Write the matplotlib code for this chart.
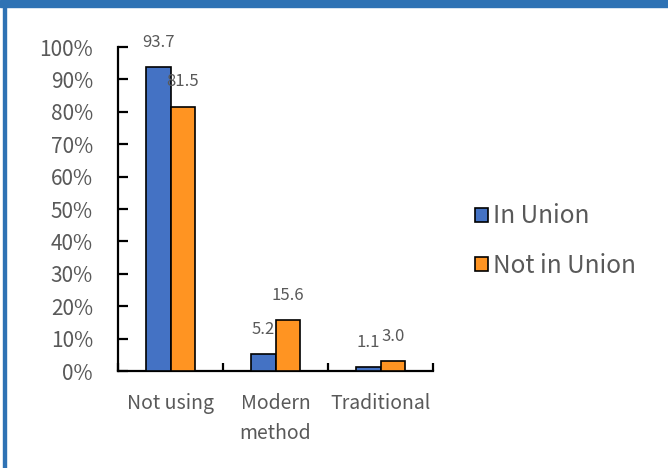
import matplotlib.pyplot as plt
import matplotlib.patches as mpatches
import numpy as np

categories = ["Not using", "Modern\nmethod", "Traditional"]
in_union = [93.7, 5.2, 1.1]
not_in_union = [81.5, 15.6, 3.0]
series_names = ["In Union", "Not in Union"]
y_ticks = list(range(0, 101, 10))

BLUE = "#4472C4"
ORANGE = "#FF9422"
GRAY = "#595959"
FRAME = "#2E72B4"

plt.rcParams["font.family"] = ["Noto Sans CJK JP", "DejaVu Sans"]

fig = plt.figure(figsize=(6.68, 4.68), dpi=100)
ax = fig.add_axes([118 / 668, 1 - 371 / 468, (433 - 118) / 668, (371 - 47) / 468])

x = np.arange(len(categories))
w = 0.238
b1 = ax.bar(x - w / 2, in_union, w, color=BLUE, edgecolor="black", linewidth=1.2,
            label=series_names[0], zorder=3)
b2 = ax.bar(x + w / 2, not_in_union, w, color=ORANGE, edgecolor="black", linewidth=1.2,
            label=series_names[1], zorder=3)

for bars, vals in ((b1, in_union), (b2, not_in_union)):
    for bar, v in zip(bars, vals):
        ax.annotate(f"{v:.1f}", xy=(bar.get_x() + bar.get_width() / 2, v),
                    xytext=(0, 18), textcoords="offset points",
                    ha="center", va="center", fontsize=12, color=GRAY)

ax.set_xlim(-0.5, len(categories) - 0.5)
ax.set_ylim(0, 100)
ax.set_yticks(y_ticks)
ax.set_yticklabels([f"{t}%" for t in y_ticks])
ax.set_xticks(x)
ax.set_xticklabels(categories)
ax.set_xticks(np.arange(-0.5, len(categories), 1.0), minor=True)

for s in ("top", "right"):
    ax.spines[s].set_visible(False)
for s in ("left", "bottom"):
    ax.spines[s].set_linewidth(1.6)

ax.tick_params(axis="y", direction="in", length=7, width=1.6, pad=18,
               labelsize=15, labelcolor=GRAY)
ax.tick_params(axis="x", which="major", length=0, pad=16, labelsize=14, labelcolor=GRAY)
ax.tick_params(axis="x", which="minor", direction="in", length=6, width=1.6)

for lbl in ax.get_xticklabels():
    lbl.set_linespacing(1.55)

fig.legend(handles=[b1, b2], loc="center left", bbox_to_anchor=(475 / 668, 1 - 241 / 468),
           frameon=False, fontsize=17.5, handlelength=0.55, handleheight=0.55,
           handletextpad=0.2, labelspacing=0.95, borderpad=0, borderaxespad=0,
           labelcolor=GRAY)

# blue frame pieces (title band and left edge)
fig.patches.append(mpatches.Rectangle((0, 1 - 7 / 468), 1, 7 / 468, transform=fig.transFigure,
                                      color=FRAME, zorder=5))
fig.patches.append(mpatches.Rectangle((3 / 668, 0), 3 / 668, 1, transform=fig.transFigure,
                                      color=FRAME, zorder=5))

fig.savefig("out.png", dpi=100)
